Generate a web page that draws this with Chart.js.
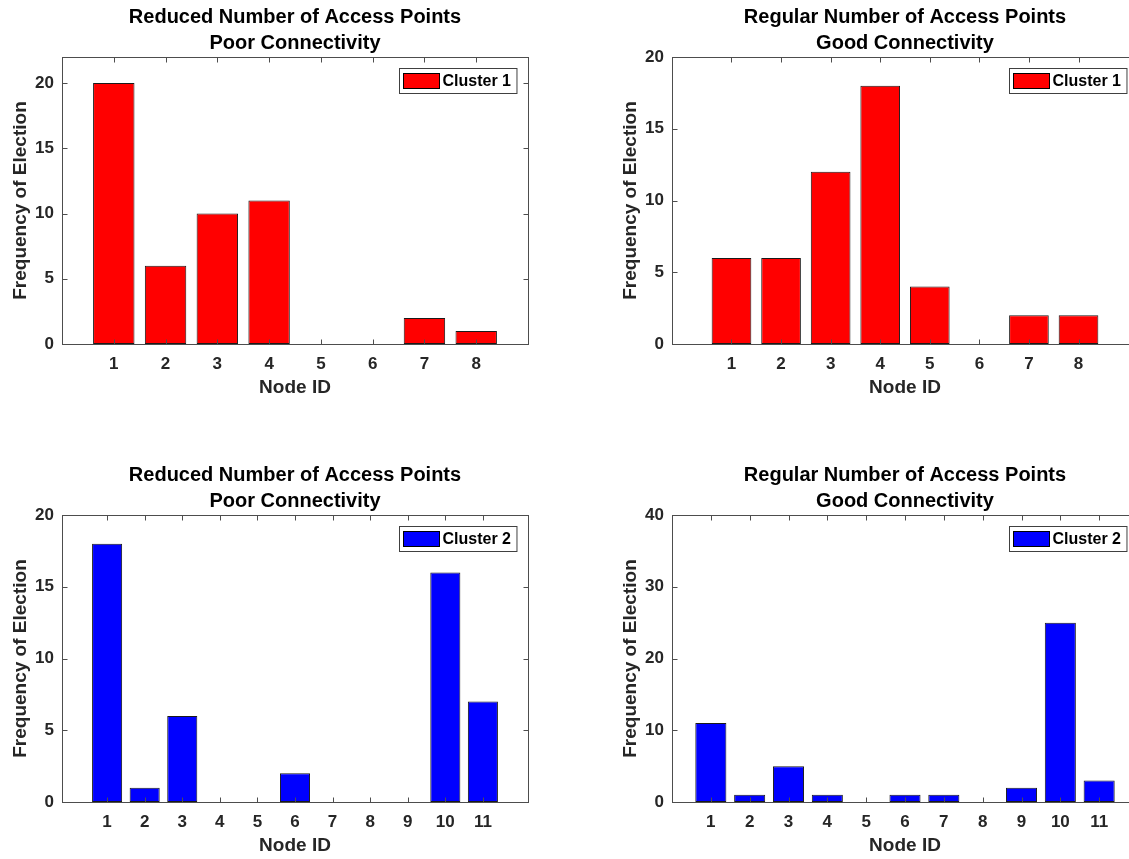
<!DOCTYPE html>
<html>
<head>
<meta charset="utf-8">
<title>Frequency of Election</title>
<script src="https://cdn.jsdelivr.net/npm/chart.js@4.4.1/dist/chart.umd.min.js"></script>
<style>
  html, body { margin: 0; padding: 0; background: #fff; overflow: hidden; width: 1129px; height: 859px; position: relative; }
  canvas { position: absolute; }
</style>
</head>
<body>
<canvas id="poorC1" width="560" height="420" style="left:0px;top:0px"></canvas>
<canvas id="goodC1" width="560" height="420" style="left:610px;top:0px"></canvas>
<canvas id="poorC2" width="560" height="420" style="left:0px;top:458px"></canvas>
<canvas id="goodC2" width="560" height="420" style="left:610px;top:458px"></canvas>
<script>
// node ids (x categories)
const nodesCluster1 = [1, 2, 3, 4, 5, 6, 7, 8];
const nodesCluster2 = [1, 2, 3, 4, 5, 6, 7, 8, 9, 10, 11];

// frequency of election per node
const poorCluster1 = [20, 6, 10, 11, 0, 0, 2, 1];
const goodCluster1 = [6, 6, 12, 18, 4, 0, 2, 2];
const poorCluster2 = [18, 1, 6, 0, 0, 2, 0, 0, 0, 16, 7];
const goodCluster2 = [11, 1, 5, 1, 0, 1, 1, 0, 2, 25, 3];

// y tick labels
const yTicks20 = [0, 5, 10, 15, 20];
const yTicks40 = [0, 10, 20, 30, 40];

const titlePoor = ["Reduced Number of Access Points", "Poor Connectivity"];
const titleGood = ["Regular Number of Access Points", "Good Connectivity"];

const FONT = "'Liberation Sans', Arial, Helvetica, sans-serif";
const TEXT = "#262626";

// matlab style box with inward ticks + legend inside the axes
const matlabBox = {
  id: "matlabBox",
  afterDatasetsDraw(chart) {
    const { ctx, chartArea: a, scales: { x, y } } = chart;
    ctx.save();
    ctx.lineWidth = 1;
    ctx.strokeStyle = "#4d4d4d";
    const L = Math.round(a.left) + 0.5, R = Math.round(a.right) + 0.5;
    const T = Math.round(a.top) + 0.5, B = Math.round(a.bottom) + 0.5;
    ctx.beginPath();
    x.ticks.forEach(t => {
      const px = Math.round(x.getPixelForValue(t.value)) + 0.5;
      ctx.moveTo(px, B); ctx.lineTo(px, B - 5);
      ctx.moveTo(px, T); ctx.lineTo(px, T + 5);
    });
    y.ticks.forEach(t => {
      const py = Math.round(y.getPixelForValue(t.value)) + 0.5;
      ctx.moveTo(L, py); ctx.lineTo(L + 5, py);
      ctx.moveTo(R, py); ctx.lineTo(R - 5, py);
    });
    ctx.stroke();
    ctx.strokeRect(L, T, R - L, B - T);

    // legend
    const ds = chart.data.datasets[0];
    ctx.font = "bold 16px " + FONT;
    const tw = ctx.measureText(ds.label).width;
    const bw = 4 + 36 + 3 + tw + 6, bh = 25;
    const lx = Math.round(a.right - 12 - bw) + 0.5, ly = Math.round(a.top + 11) + 0.5;
    ctx.fillStyle = "#fff";
    ctx.fillRect(lx, ly, bw, bh);
    ctx.strokeStyle = "#404040";
    ctx.strokeRect(lx, ly, bw, bh);
    ctx.fillStyle = ds.backgroundColor;
    ctx.fillRect(lx + 4, ly + 5, 36, 15);
    ctx.strokeStyle = "#000";
    ctx.strokeRect(lx + 4, ly + 5, 36, 15);
    ctx.fillStyle = "#000";
    ctx.textBaseline = "middle";
    ctx.textAlign = "left";
    ctx.fillText(ds.label, lx + 43, ly + bh / 2 + 0.5);
    ctx.restore();
  }
};

function makeChart(id, nodes, values, color, label, title, xMin, xMax, yMax, yTicks) {
  new Chart(document.getElementById(id), {
    type: "bar",
    data: {
      labels: nodes,
      datasets: [{
        label: label,
        data: values,
        backgroundColor: color,
        borderColor: "#1a1a1a",
        borderWidth: 1,
        borderSkipped: false,
        categoryPercentage: 1.0,
        barPercentage: 0.8
      }]
    },
    options: {
      responsive: false,
      animation: false,
      events: [],
      layout: { padding: { left: 0, right: 32, top: 0, bottom: 0 } },
      plugins: {
        legend: { display: false },
        tooltip: { enabled: false },
        title: {
          display: true,
          fullSize: false,
          text: title,
          color: "#000",
          font: { family: FONT, size: 20, weight: "bold", lineHeight: "26px" },
          padding: { top: 4, bottom: 1 }
        }
      },
      scales: {
        x: {
          type: "linear",
          min: xMin,
          max: xMax,
          offset: false,
          grid: { display: false, drawTicks: false },
          border: { display: false },
          afterBuildTicks: s => { s.ticks = nodes.map(v => ({ value: v })); },
          afterFit: s => { s.height = 76; },
          ticks: {
            color: TEXT,
            autoSkip: false,
            maxRotation: 0,
            padding: 10,
            font: { family: FONT, size: 17, weight: "bold" }
          },
          title: {
            display: true,
            text: "Node ID",
            color: TEXT,
            font: { family: FONT, size: 19, weight: "bold" },
            padding: { top: 0, bottom: 21 }
          }
        },
        y: {
          min: 0,
          max: yMax,
          grid: { display: false, drawTicks: false },
          border: { display: false },
          afterBuildTicks: s => { s.ticks = yTicks.map(v => ({ value: v })); },
          afterFit: s => { s.width = 62; },
          ticks: {
            color: TEXT,
            padding: 8,
            font: { family: FONT, size: 17, weight: "bold" }
          },
          title: {
            display: true,
            text: "Frequency of Election",
            color: TEXT,
            font: { family: FONT, size: 19, weight: "bold" },
            padding: { top: 9, bottom: 0 }
          }
        }
      }
    },
    plugins: [matlabBox]
  });
}

makeChart("poorC1", nodesCluster1, poorCluster1, "#ff0000", "Cluster 1", titlePoor, 0, 9, 22, yTicks20);
makeChart("goodC1", nodesCluster1, goodCluster1, "#ff0000", "Cluster 1", titleGood, -0.2, 9.2, 20, yTicks20);
makeChart("poorC2", nodesCluster2, poorCluster2, "#0000ff", "Cluster 2", titlePoor, -0.2, 12.2, 20, yTicks20);
makeChart("goodC2", nodesCluster2, goodCluster2, "#0000ff", "Cluster 2", titleGood, 0, 12, 40, yTicks40);
</script>
</body>
</html>
